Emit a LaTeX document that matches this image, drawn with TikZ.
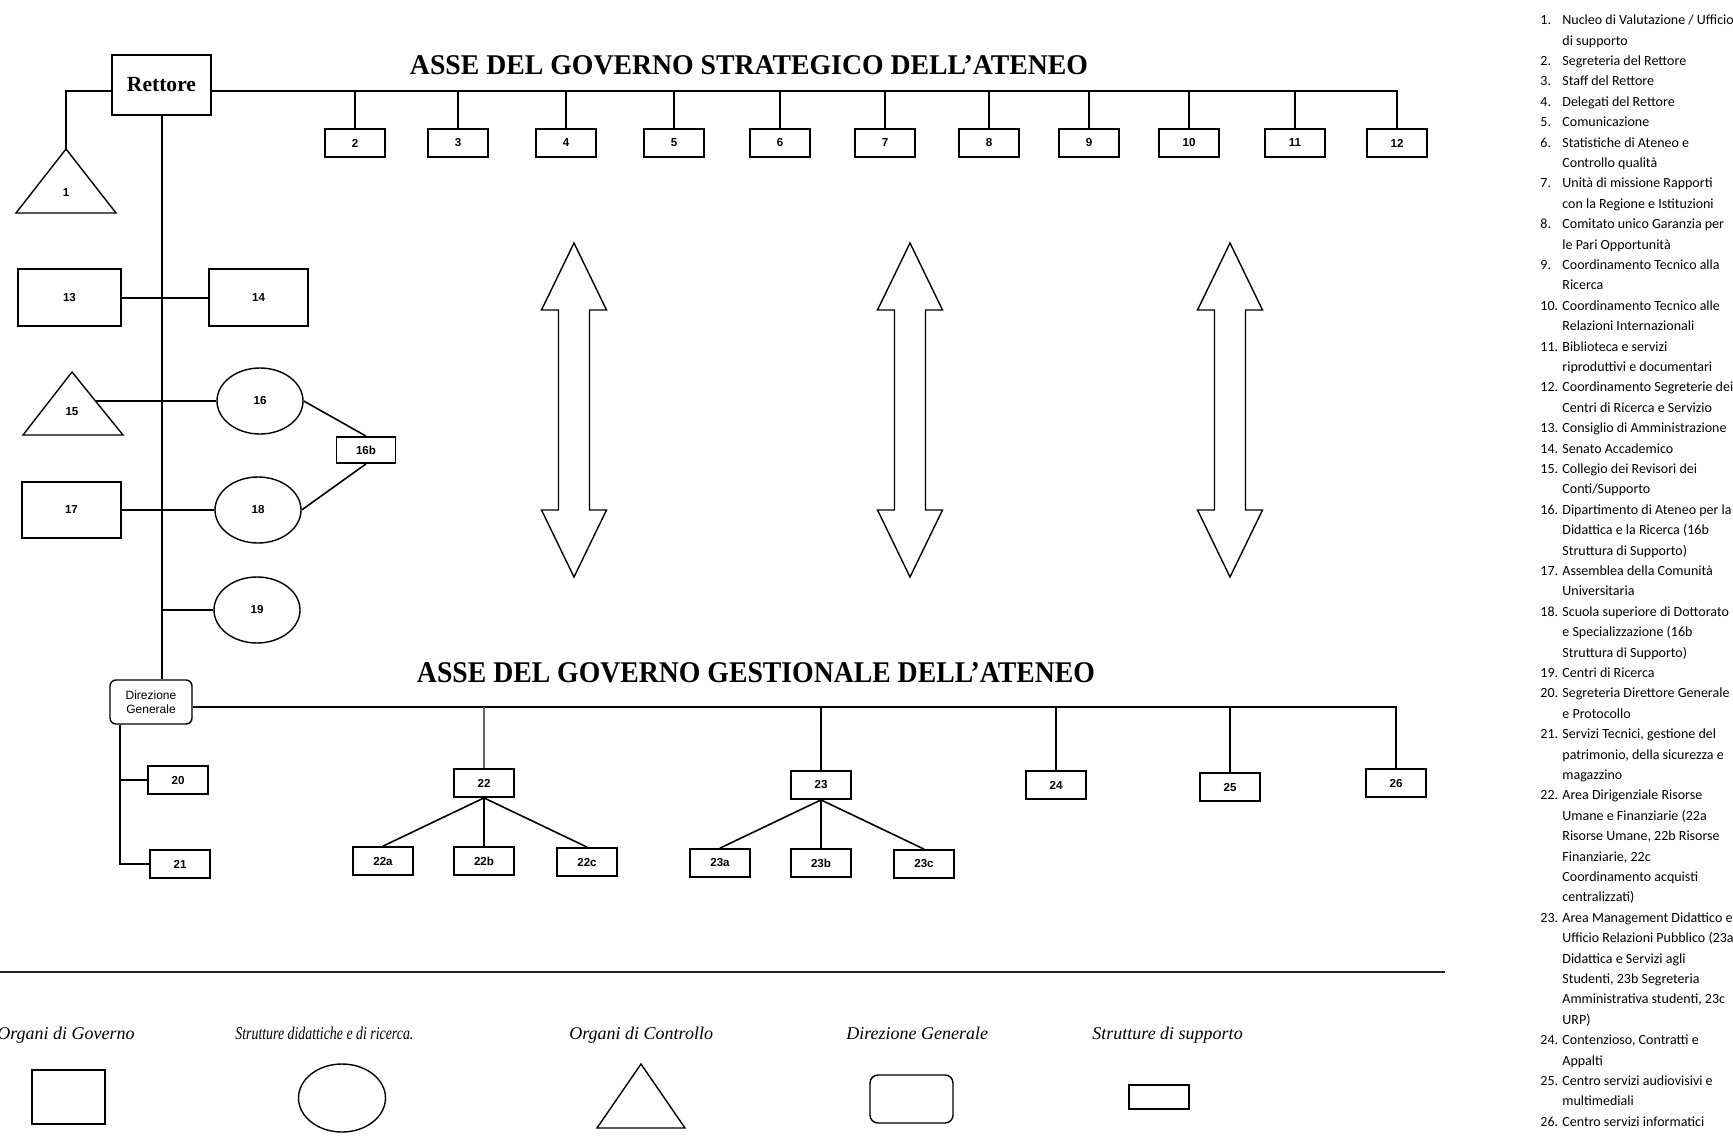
\documentclass[tikz,border=0pt]{standalone}
\usepackage{fontspec}
\usepackage{graphicx}
\setmainfont{Liberation Serif}
\setsansfont{Liberation Sans}
\newfontfamily\listfont{Carlito}
\usetikzlibrary{shapes.geometric}
\tikzset{
  conn/.style={line width=1pt},
  lite/.style={line width=0.8pt},
  digits/.style={font=\sffamily\bfseries\fontsize{5.8}{6.5}\selectfont},
  supbox/.style={draw, line width=0.9pt, minimum width=30pt, minimum height=14pt, inner sep=0pt, digits},
  govbox/.style={draw, line width=0.9pt, inner sep=0pt, digits},
  struct/.style={draw, ellipse, line width=0.7pt, minimum width=43pt, minimum height=33pt, inner sep=0pt, digits},
  dgbox/.style={draw, rounded corners=3pt, line width=0.7pt, inner sep=0pt, align=center, font=\sffamily\fontsize{6}{6.8}\selectfont},
  tri/.style={draw, line width=0.7pt, line join=miter},
  lbl/.style={inner sep=0pt, digits},
  legtxt/.style={anchor=base west, inner sep=0pt, font=\itshape\fontsize{9}{10}\selectfont},
  bigarrow/.style={draw, line width=0.7pt, line join=miter},
}
\begin{document}
\begin{tikzpicture}[x=0.5pt, y=-0.5pt]
\fill[white] (0,0) rectangle (1733,1139);
\useasboundingbox (0,0) rectangle (1733,1139);

% ---------- titles ----------
\node[inner sep=0pt, anchor=base] (titleS) at (749,75) {\resizebox{339pt}{9.5pt}{\bfseries ASSE DEL GOVERNO STRATEGICO DELL’ATENEO}};
\node[inner sep=0pt, anchor=base] (titleG) at (756,682) {\resizebox{339pt}{10pt}{\bfseries ASSE DEL GOVERNO GESTIONALE DELL’ATENEO}};

% ---------- Rettore and strategic axis ----------
\node[govbox, minimum width=49.5pt, minimum height=30pt, font=\bfseries\fontsize{10.8}{12}\selectfont] (rettore) at (161.5,85) {Rettore};
\foreach \n/\x in {2/355,3/458,4/566,5/674,6/780,7/885,8/989,9/1089,10/1189,11/1295,12/1397}
  \node[supbox] (b\n) at (\x,143) {\n};
\coordinate (busT) at (1397,91);
\draw[conn] ([yshift=-3pt]rettore.east) -| (b12.north);
\foreach \n in {2,...,11}
  \draw[conn] (b\n.north) -- (b\n.north |- busT);

% triangle 1
\draw[tri] (66,149) -- (116,213) -- (16,213) -- cycle;
\coordinate (t1apex) at (66,149);
\node[lbl] (t1) at (66,193) {1};
\draw[conn] ([yshift=-3pt]rettore.west) -| (t1apex);

% ---------- left column ----------
\node[dgbox, minimum width=41pt, minimum height=22pt] (dg) at (151,702) {Direzione\\Generale};
\draw[conn] (rettore.south) -- (rettore.south |- dg.north);

\node[govbox, minimum width=51.5pt, minimum height=28.5pt] (b13) at (69.5,297.5) {13};
\node[govbox, minimum width=49.5pt, minimum height=28.5pt] (b14) at (258.5,297.5) {14};
\draw[conn] (b13.east) -- (b14.west);

\draw[tri] (72,372) -- (123,435) -- (23,435) -- cycle;
\coordinate (t15r) at (95,401);
\node[lbl] (t15) at (72,412) {15};
\node[struct] (e16) at (260,401) {16};
\draw[conn] (t15r) -- (e16.west);

\node[supbox, minimum width=29.5pt, minimum height=13pt] (b16b) at (366,450) {16b};
\node[struct] (e18) at (258,510) {18};
\draw[lite] (e16.east) -- (b16b.north);
\draw[lite] (b16b.south) -- (e18.east);

\node[govbox, minimum width=49.5pt, minimum height=28pt] (b17) at (71.5,510) {17};
\draw[conn] (b17.east) -- (e18.west);

\node[struct] (e19) at (257,610) {19};
\draw[conn] (e19.west) -- (e19.west -| rettore.south);

% ---------- management axis ----------
\node[supbox] (b20) at (178,780) {20};
\node[supbox] (b21) at (180,864) {21};
\coordinate (dgl) at ([xshift=-15.5pt]dg.south);
\draw[conn] (dgl) |- (b21.west);
\draw[conn] (b20.west) -- (b20.west -| dgl);

\node[supbox] (b22) at (484,783) {22};
\node[supbox] (b23) at (821,785) {23};
\node[supbox] (b24) at (1056,785) {24};
\node[supbox] (b25) at (1230,787) {25};
\node[supbox] (b26) at (1396,783) {26};
\coordinate (busB) at (1396,707);
\draw[conn] ([yshift=-2.5pt]dg.east) -| (b26.north);
\draw[lite, black!60] (b22.north) -- (b22.north |- busB);
\foreach \n in {23,24,25}
  \draw[conn] (b\n.north) -- (b\n.north |- busB);

\node[supbox] (b22a) at (383,861) {22a};
\node[supbox] (b22b) at (484,861) {22b};
\node[supbox] (b22c) at (587,862) {22c};
\node[supbox] (b23a) at (720,863) {23a};
\node[supbox] (b23b) at (821,863) {23b};
\node[supbox] (b23c) at (924,864) {23c};
\foreach \p in {22,23} {
  \draw[lite] (b\p.south) -- (b\p a.north);
  \draw[conn] (b\p.south) -- (b\p b.north);
  \draw[lite] (b\p.south) -- (b\p c.north);
}

% ---------- double arrows ----------
\foreach \cx in {574,910,1230}
  \draw[bigarrow] (\cx,243) -- (\cx+32.5,310) -- (\cx+15.5,310) -- (\cx+15.5,510)
    -- (\cx+32.5,510) -- (\cx,577) -- (\cx-32.5,510) -- (\cx-15.5,510)
    -- (\cx-15.5,310) -- (\cx-32.5,310) -- cycle;

% ---------- legend ----------
\draw[line width=1.2pt, black!85] (0,972) -- (1445,972);
\node[legtxt] (lg1t) at (-3,1039) {Organi di Governo};
\node[legtxt] (lg2t) at (235,1039) {\scalebox{0.77}[1]{Strutture didattiche e di ricerca.}};
\node[legtxt] (lg3t) at (569,1039) {Organi di Controllo};
\node[legtxt] (lg4t) at (846,1039) {Direzione Generale};
\node[legtxt] (lg5t) at (1092,1039) {Strutture di supporto};
\node[draw, line width=0.9pt, minimum width=36.5pt, minimum height=27pt, inner sep=0pt] (lg1) at (68.5,1097) {};
\node[draw, ellipse, line width=0.7pt, minimum width=43.5pt, minimum height=34pt, inner sep=0pt] (lg2) at (342,1098) {};
\draw[tri] (641,1064) -- (685,1128) -- (597,1128) -- cycle;
\node[draw, rounded corners=4pt, line width=0.7pt, minimum width=41.5pt, minimum height=24pt, inner sep=0pt] (lg4) at (911.5,1099) {};
\node[draw, line width=0.9pt, minimum width=30pt, minimum height=12pt, inner sep=0pt] (lg5) at (1159,1097) {};

% ---------- numbered list ----------
\node[anchor=north west, inner sep=0pt, font=\listfont\fontsize{7}{10.2}\selectfont] (notes) at (1540,10) {%
\begin{tabular}{@{}p{11pt}@{}l@{}}
1. & Nucleo di Valutazione / Ufficio\\
   & di supporto\\
2. & Segreteria del Rettore\\
3. & Staff del Rettore\\
4. & Delegati del Rettore\\
5. & Comunicazione\\
6. & Statistiche di Ateneo e\\
   & Controllo qualità\\
7. & Unità di missione Rapporti\\
   & con la Regione e Istituzioni\\
8. & Comitato unico Garanzia per\\
   & le Pari Opportunità\\
9. & Coordinamento Tecnico alla\\
   & Ricerca\\
10. & Coordinamento Tecnico alle\\
   & Relazioni Internazionali\\
11. & Biblioteca e servizi\\
   & riproduttivi e documentari\\
12. & Coordinamento Segreterie dei\\
   & Centri di Ricerca e Servizio\\
13. & Consiglio di Amministrazione\\
14. & Senato Accademico\\
15. & Collegio dei Revisori dei\\
   & Conti/Supporto\\
16. & Dipartimento di Ateneo per la\\
   & Didattica e la Ricerca (16b\\
   & Struttura di Supporto)\\
17. & Assemblea della Comunità\\
   & Universitaria\\
18. & Scuola superiore di Dottorato\\
   & e Specializzazione (16b\\
   & Struttura di Supporto)\\
19. & Centri di Ricerca\\
20. & Segreteria Direttore Generale\\
   & e Protocollo\\
21. & Servizi Tecnici, gestione del\\
   & patrimonio, della sicurezza e\\
   & magazzino\\
22. & Area Dirigenziale Risorse\\
   & Umane e Finanziarie (22a\\
   & Risorse Umane, 22b Risorse\\
   & Finanziarie, 22c\\
   & Coordinamento acquisti\\
   & centralizzati)\\
23. & Area Management Didattico e\\
   & Ufficio Relazioni Pubblico (23a\\
   & Didattica e Servizi agli\\
   & Studenti, 23b Segreteria\\
   & Amministrativa studenti, 23c\\
   & URP)\\
24. & Contenzioso, Contratti e\\
   & Appalti\\
25. & Centro servizi audiovisivi e\\
   & multimediali\\
26. & Centro servizi informatici
\end{tabular}};
\end{tikzpicture}
\end{document}
